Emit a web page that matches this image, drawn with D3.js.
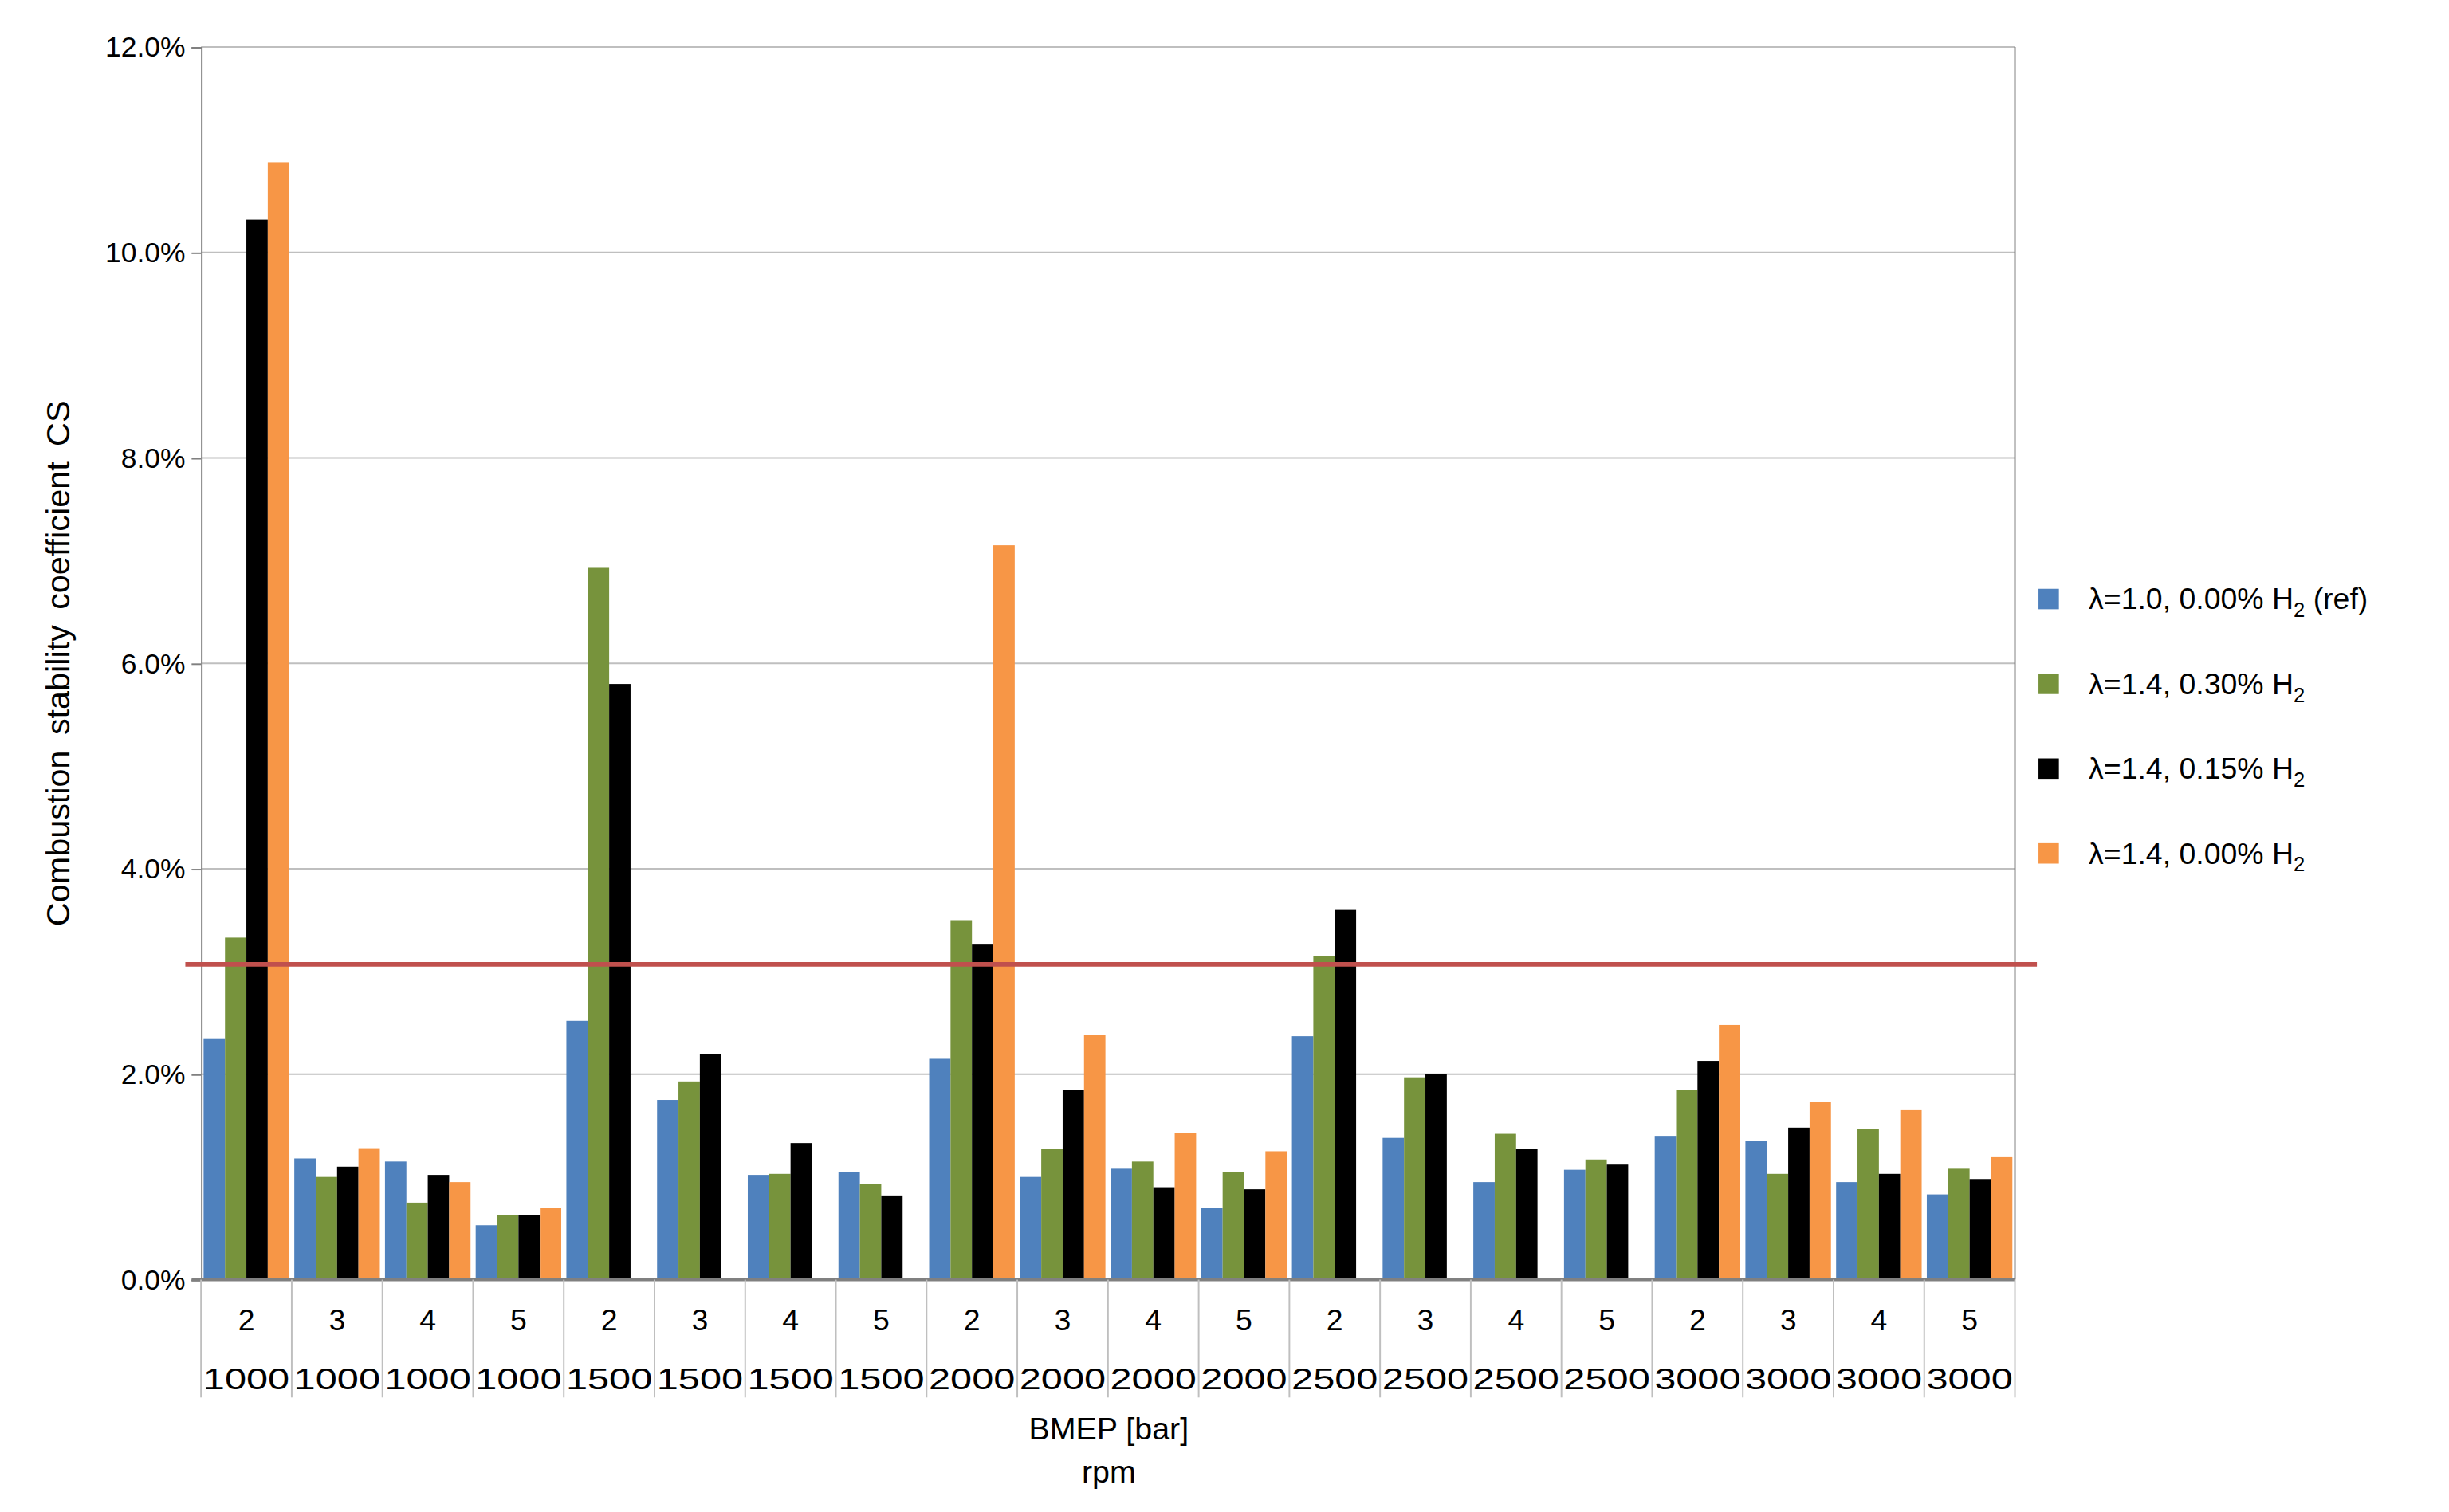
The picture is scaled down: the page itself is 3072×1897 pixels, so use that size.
<!DOCTYPE html>
<html><head><meta charset="utf-8">
<script src="https://cdn.jsdelivr.net/npm/d3@7"></script>
<style>body{margin:0;background:#fff}text{font-family:Arial,"Liberation Sans",sans-serif}</style>
</head><body>
<svg id="chart" width="3072" height="1897"></svg>
<script>
const bmep = ["2","3","4","5","2","3","4","5","2","3","4","5","2","3","4","5","2","3","4","5"];
const rpm = ["1000","1000","1000","1000","1500","1500","1500","1500","2000","2000","2000","2000","2500","2500","2500","2500","3000","3000","3000","3000"];
const seriesNames = ["λ=1.0, 0.00% H|2| (ref)", "λ=1.4, 0.30% H|2|", "λ=1.4, 0.15% H|2|", "λ=1.4, 0.00% H|2|"];
const colors = ["#4f81bd", "#77933c", "#000000", "#f79646"];
const refBlue = [2.35,1.18,1.15,0.53,2.52,1.75,1.02,1.05,2.15,1.0,1.08,0.7,2.37,1.38,0.95,1.07,1.4,1.35,0.95,0.83];
const green030 = [3.33,1.0,0.75,0.63,6.93,1.93,1.03,0.93,3.5,1.27,1.15,1.05,3.15,1.97,1.42,1.17,1.85,1.03,1.47,1.08];
const black015 = [10.32,1.1,1.02,0.63,5.8,2.2,1.33,0.82,3.27,1.85,0.9,0.88,3.6,2.0,1.27,1.12,2.13,1.48,1.03,0.98];
const orange000 = [10.88,1.28,0.95,0.7,null,null,null,null,7.15,2.38,1.43,1.25,null,null,null,null,2.48,1.73,1.65,1.2];
const yTicks = [0,2,4,6,8,10,12];
const limit = 3.07;

const series = [refBlue, green030, black015, orange000];
const k = 1.97;
const svg = d3.select("#chart");
const g = svg.append("g").attr("transform", `scale(${k})`);

const pLeft = 128, pRight = 1283, pTop = 30, pBottom = 815;
const idx = d3.range(bmep.length);
const x = d3.scaleBand().domain(idx).range([pLeft, pRight]);
const y = d3.scaleLinear().domain([0, 12]).range([pBottom, pTop]);
const inner = d3.scaleBand().domain(d3.range(4)).range([0, x.bandwidth()]).paddingOuter(0.12);

// gridlines
g.selectAll(".grid").data(yTicks.slice(1)).join("line")
  .attr("x1", pLeft).attr("x2", pRight).attr("y1", d => y(d)).attr("y2", d => y(d))
  .attr("stroke", "#bfbfbf").attr("stroke-width", 1);
g.append("line").attr("x1", pRight).attr("x2", pRight).attr("y1", pTop).attr("y2", pBottom)
  .attr("stroke", "#808080").attr("stroke-width", 1);

// bars
series.forEach((vals, s) => {
  g.selectAll(".b" + s).data(idx.filter(i => vals[i] != null)).join("rect")
    .attr("x", i => x(i) + inner(s)).attr("width", inner.bandwidth())
    .attr("y", i => y(vals[i])).attr("height", i => pBottom - y(vals[i]))
    .attr("fill", colors[s]);
});

// y axis
const ya = g.append("g").attr("transform", `translate(${pLeft},0)`)
  .call(d3.axisLeft(y).tickValues(yTicks).tickFormat(d => d.toFixed(1) + "%").tickSize(6));
ya.select(".domain").attr("stroke", "#808080");
ya.selectAll(".tick line").attr("stroke", "#808080");
ya.selectAll("text").attr("font-size", 18).attr("fill", "#000").attr("x", -10);

// x axis baseline + category table
g.append("line").attr("x1", pLeft - 6).attr("x2", pRight).attr("y1", pBottom).attr("y2", pBottom)
  .attr("stroke", "#808080").attr("stroke-width", 2);
g.selectAll(".sep").data(d3.range(bmep.length + 1)).join("line")
  .attr("x1", i => pLeft + i * x.bandwidth()).attr("x2", i => pLeft + i * x.bandwidth())
  .attr("y1", pBottom).attr("y2", 890).attr("stroke", "#bfbfbf");
g.selectAll(".bm").data(idx).join("text")
  .attr("x", i => x(i) + x.bandwidth() / 2).attr("y", 847).attr("text-anchor", "middle")
  .attr("font-size", 19).text(i => bmep[i]);
g.selectAll(".rp").data(idx).join("text")
  .attr("x", i => x(i) + x.bandwidth() / 2).attr("y", 885).attr("text-anchor", "middle")
  .attr("font-size", 19).attr("textLength", 55).attr("lengthAdjust", "spacingAndGlyphs").text(i => rpm[i]);

// limit line
g.append("line").attr("x1", 118).attr("x2", 1297).attr("y1", y(limit)).attr("y2", y(limit))
  .attr("stroke", "#c0504d").attr("stroke-width", 3);

// titles
g.append("text").attr("x", 706).attr("y", 917).attr("text-anchor", "middle").attr("font-size", 20).text("BMEP [bar]");
g.append("text").attr("x", 706).attr("y", 944).attr("text-anchor", "middle").attr("font-size", 20).text("rpm");
g.append("text").attr("transform", `translate(44,${y(6)}) rotate(-90)`).attr("text-anchor", "middle")
  .attr("font-size", 21).attr("word-spacing", 4).text("Combustion stability  coefficient  CS");

// legend
const lg = g.selectAll(".lg").data(seriesNames).join("g")
  .attr("transform", (d, i) => `translate(1298,${383 + i * 54})`);
lg.append("rect").attr("x", 0).attr("y", -8).attr("width", 13).attr("height", 13).attr("fill", (d, i) => colors[i]);
lg.each(function(d) {
  const parts = d.split("|");
  const t = d3.select(this).append("text").attr("x", 32).attr("y", 5).attr("font-size", 19);
  t.append("tspan").text(parts[0]);
  t.append("tspan").attr("font-size", 13).attr("dy", 5).text(parts[1]);
  t.append("tspan").attr("dy", -5).text(parts[2]);
});
</script>
</body></html>
